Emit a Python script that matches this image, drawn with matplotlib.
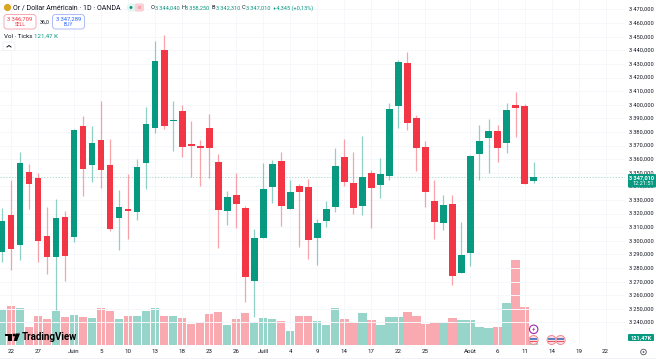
import matplotlib
matplotlib.use('Agg')
import matplotlib.pyplot as plt
from matplotlib.patches import Circle, FancyBboxPatch, Rectangle

plt.rcParams['font.family'] = ['Roboto', 'DejaVu Sans']

opens = [3291.8, 3319.0, 3297.0, 3350.6, 3345.9, 3303.3, 3288.3, 3317.3, 3302.6, 3384.2,
         3355.9, 3373.9, 3355.7, 3316.8, 3323.6, 3321.4, 3357.2, 3383.1, 3440.2, 3387.8,
         3395.4, 3370.9, 3369.5, 3383.1, 3357.7, 3322.1, 3333.7, 3324.3, 3270.7, 3302.3,
         3339.5, 3358.9, 3323.4, 3340.5, 3339.8, 3301.9, 3314.8, 3325.1, 3361.8, 3342.3,
         3325.8, 3350.1, 3340.8, 3347.9, 3398.9, 3430.5, 3390.0, 3368.7, 3329.0, 3312.9,
         3327.1, 3276.4, 3290.8, 3364.0, 3375.3, 3380.9, 3371.7, 3399.8, 3399.1, 3344.04]
highs = [3324.1, 3344.7, 3365.3, 3356.5, 3349.8, 3325.1, 3330.7, 3322.1, 3382.2, 3391.7,
         3384.2, 3403.0, 3375.0, 3337.3, 3348.9, 3359.9, 3398.3, 3446.6, 3451.2, 3403.0,
         3399.8, 3387.8, 3374.1, 3393.2, 3363.8, 3336.4, 3349.6, 3325.6, 3308.7, 3357.4,
         3359.4, 3365.0, 3344.7, 3341.8, 3345.2, 3316.0, 3329.3, 3368.2, 3374.6, 3365.5,
         3376.8, 3352.0, 3360.6, 3401.0, 3432.9, 3438.5, 3392.7, 3373.0, 3344.7, 3333.7,
         3333.7, 3314.1, 3363.1, 3384.9, 3389.7, 3384.9, 3401.5, 3409.1, 3400.3, 3358.25]
lows = [3284.4, 3278.6, 3285.9, 3323.4, 3284.4, 3275.8, 3249.2, 3270.7, 3299.4, 3333.0,
        3343.5, 3339.0, 3307.2, 3293.3, 3301.1, 3315.1, 3338.1, 3379.2, 3382.2, 3366.0,
        3361.8, 3346.9, 3340.1, 3346.4, 3294.7, 3311.6, 3309.6, 3254.8, 3244.2, 3302.3,
        3327.6, 3311.1, 3323.4, 3295.7, 3286.6, 3282.2, 3309.9, 3321.4, 3340.5, 3319.7,
        3319.0, 3309.2, 3331.2, 3344.7, 3383.1, 3381.2, 3351.3, 3324.5, 3301.6, 3307.7,
        3267.5, 3276.4, 3281.3, 3344.5, 3349.6, 3358.0, 3364.7, 3376.1, 3341.8, 3342.31]
closes = [3314.6, 3294.0, 3357.4, 3341.5, 3299.6, 3287.9, 3316.8, 3288.8, 3381.4, 3352.8,
          3371.7, 3352.3, 3308.9, 3325.1, 3321.7, 3354.5, 3386.1, 3432.4, 3384.4, 3388.6,
          3368.7, 3369.7, 3368.0, 3368.4, 3322.7, 3332.0, 3326.8, 3273.2, 3302.3, 3338.1,
          3356.5, 3325.6, 3335.9, 3335.7, 3300.6, 3312.9, 3323.2, 3355.0, 3343.0, 3324.1,
          3346.7, 3338.6, 3349.3, 3396.6, 3431.2, 3386.8, 3368.2, 3336.1, 3313.6, 3326.1,
          3274.2, 3289.4, 3362.3, 3373.1, 3380.5, 3368.4, 3395.9, 3397.4, 3342.0, 3347.01]
volumes = [532, 593, 567, 274, 441, 404, 526, 435, 456, 430,
           415, 562, 521, 395, 450, 450, 526, 567, 450, 441,
           410, 324, 350, 480, 511, 309, 400, 491, 344, 410,
           395, 369, 217, 445, 441, 369, 304, 567, 400, 339,
           491, 380, 309, 435, 435, 511, 441, 324, 354, 334,
           415, 380, 385, 274, 268, 283, 648, 1297, 582, 121.47]

price_ticks = [3240, 3250, 3260, 3270, 3280, 3290, 3300, 3310, 3320, 3330, 3340, 3350,
               3360, 3370, 3380, 3390, 3400, 3410, 3420, 3430, 3440, 3450, 3460, 3470]
date_pos = [1, 4, 8, 11, 14, 17, 20, 23, 26, 29, 32, 35, 38, 41, 44, 47, 52, 55, 58, 61, 64, 67]
date_labels = ['22', '27', 'Juin', '5', '10', '13', '18', '23', '26', 'Juill', '4', '9',
               '14', '17', '22', '25', 'Août', '6', '11', '14', '19', '22']
event_pos = [59, 61, 62]

GREEN = '#089981'
RED = '#f23645'
DARK = '#131722'
W, H = 656, 359
PLOT_RIGHT = 625
PLOT_BOTTOM = 345.3

fig = plt.figure(figsize=(W / 100, H / 100), dpi=100, facecolor='white')
ax = fig.add_axes([0, 1 - PLOT_BOTTOM / H, PLOT_RIGHT / W, PLOT_BOTTOM / H])
ax.set_xlim(-0.222, 69.15)
ax.set_ylim(3223.2, 3476.96)
ax.set_zorder(2)
ax.patch.set_alpha(0)
for s in ax.spines.values():
    s.set_visible(False)

vol_ax = fig.add_axes(ax.get_position(), sharex=ax)
vol_ax.set_ylim(0, 5248)
vol_ax.set_zorder(1)
vol_ax.axis('off')

# faint grid
ax.set_yticks(price_ticks)
ax.set_xticks(date_pos)
ax.set_yticklabels([])
ax.set_xticklabels([])
ax.tick_params(length=0)
ax.grid(color='#f6f7fa', lw=0.7)
ax.set_axisbelow(True)

for i in range(len(closes)):
    c = GREEN if closes[i] >= opens[i] else RED
    vol_ax.bar(i, volumes[i], width=0.92, color=c, alpha=0.42, lw=0)
    ax.vlines(i, lows[i], highs[i], color=c, lw=0.9, alpha=0.45, zorder=3)
    bottom = min(opens[i], closes[i])
    height = max(abs(closes[i] - opens[i]), 0.6)
    ax.bar(i, height, bottom=bottom, width=0.74, color=c, lw=0, zorder=4)

ax.axhline(closes[-1], color=GREEN, lw=0.6, ls=(0, (1.5, 2)), alpha=0.4, zorder=2)

# overlay in pixel coordinates for the chart furniture
ui = fig.add_axes([0, 0, 1, 1], zorder=5)
ui.set_xlim(0, W)
ui.set_ylim(H, 0)
ui.axis('off')
ui.patch.set_alpha(0)

for p in price_ticks:
    y = ax.transData.transform((0, p))[1]
    ui.text(654, H - y, f'{str(p)[0]}\u2009{str(p)[1:]},000', fontsize=4.1, color=DARK,
            ha='right', va='center', zorder=1)
for p, l in zip(date_pos, date_labels):
    x = ax.transData.transform((p, 0))[0]
    ui.text(x, 351.7, l, fontsize=4.4, color=DARK, ha='center', va='center')

ui.add_patch(Rectangle((0, 358), 656, 1, color='#f0f1f4', lw=0, zorder=0))

# last price and volume tags
ui.add_patch(FancyBboxPatch((628, 174), 28, 13.5, boxstyle='round,pad=0,rounding_size=1', color=GREEN, lw=0, zorder=2))
ui.text(654, 177.8, '3\u2009347,010', fontsize=4.1, color='white', ha='right', va='center', fontweight='bold', zorder=3)
ui.text(654, 183.6, '12:21:51', fontsize=4.1, color='white', ha='right', va='center', zorder=3)
ui.add_patch(FancyBboxPatch((628, 334), 26, 7, boxstyle='round,pad=0,rounding_size=1', color=GREEN, lw=0, zorder=2))
ui.text(652, 337.6, '121,47K', fontsize=4.1, color='white', ha='right', va='center', fontweight='bold', zorder=3)

# header
ui.add_patch(Circle((7.5, 7.5), 3.6, color='#d9a520', lw=0))
ui.text(13, 7.8, 'Or / Dollar Américain · 1D · OANDA', fontsize=5.0, color=DARK, va='center')
ui.add_patch(FancyBboxPatch((127, 3.5), 17, 8, boxstyle='round,pad=0,rounding_size=3', color='#e4f5f1', lw=0))
ui.add_patch(FancyBboxPatch((135, 3.5), 9, 8, boxstyle='round,pad=0,rounding_size=2', color='#fbd0d6', lw=0))
ui.add_patch(Rectangle((137.5, 6), 3.5, 3, color='#f7a9b2', lw=0))
ui.add_patch(Circle((131, 7.5), 1.5, color=GREEN, lw=0))
for x, letter, val in [(151, 'O', '3\u2009344,040'), (181.7, 'H', '3\u2009358,250'),
                       (212, 'B', '3\u2009342,310'), (242, 'C', '3\u2009347,010')]:
    ui.text(x, 7.8, letter, fontsize=4.1, color=DARK, va='center')
    ui.text(x + 3.6, 7.8, val, fontsize=4.1, color=GREEN, va='center')
ui.text(272.7, 7.8, '+4,345 (+0,13%)', fontsize=4.1, color=GREEN, va='center')

ui.add_patch(FancyBboxPatch((4, 14.5), 32, 14.5, boxstyle='round,pad=0,rounding_size=3', fc='white', ec='#f7a9b2', lw=0.7))
ui.text(20, 19, '3\u2009346,709', fontsize=4.2, color=RED, ha='center', va='center')
ui.text(20, 25, 'SELL', fontsize=3.6, color=RED, ha='center', va='center')
ui.text(44.5, 22, '36,0', fontsize=3.8, color=DARK, ha='center', va='center')
ui.add_patch(FancyBboxPatch((52.5, 14.5), 32, 14.5, boxstyle='round,pad=0,rounding_size=3', fc='white', ec='#aebcf7', lw=0.7))
ui.text(68.5, 19, '3\u2009347,289', fontsize=4.2, color='#2962ff', ha='center', va='center')
ui.text(68.5, 25, 'BUY', fontsize=3.6, color='#2962ff', ha='center', va='center')

ui.text(4, 36.5, 'Vol · Ticks', fontsize=4.5, color=DARK, va='center')
ui.text(33.5, 36.5, '121,47 K', fontsize=4.4, color=GREEN, va='center')
ui.add_patch(FancyBboxPatch((3, 42), 12, 8.5, boxstyle='round,pad=0,rounding_size=1.5', fc='white', ec='#eceef2', lw=0.6))
ui.plot([7, 9, 11], [47, 45.5, 47], color=DARK, lw=0.7)

# logo
ui.add_patch(Rectangle((5, 333.5), 6.5, 2.6, color='black', lw=0))
ui.add_patch(Rectangle((8.2, 333.5), 3.3, 7.5, color='black', lw=0))
ui.add_patch(Circle((14, 335), 1.4, color='black', lw=0))
ui.fill([15.5, 20, 17, 13.8], [333.5, 333.5, 341, 341], color='black', lw=0)
ui.text(21.5, 337.4, 'TradingView', fontsize=7.0, color='black', va='center', fontweight='bold')

# event markers
ui.add_patch(Circle((533.7, 329.3), 4.2, fc='white', ec='#9c27b0', lw=0.8))
ui.fill([534.5, 532.3, 533.6, 532.9, 535.1, 533.8], [326.8, 329.8, 329.8, 331.8, 328.8, 328.8], color='#9c27b0', lw=0)
for p in event_pos:
    x = ax.transData.transform((p, 0))[0]
    ui.add_patch(Circle((x, 340), 4.5, fc='#fbdde0', ec='#f28a94', lw=0.7))
    ui.add_patch(Rectangle((x - 3.2, 337.6), 6.4, 2.6, color='#5b7fc0', lw=0))
    ui.add_patch(Rectangle((x - 3.2, 341), 6.4, 1.2, color='#f05060', lw=0))

# settings glyph
ui.add_patch(Circle((643.5, 352), 2.8, fc='white', ec='#50535e', lw=0.6))
ui.add_patch(Circle((643.5, 352), 0.9, fc='#50535e', lw=0))

fig.savefig('out.png', dpi=100)
